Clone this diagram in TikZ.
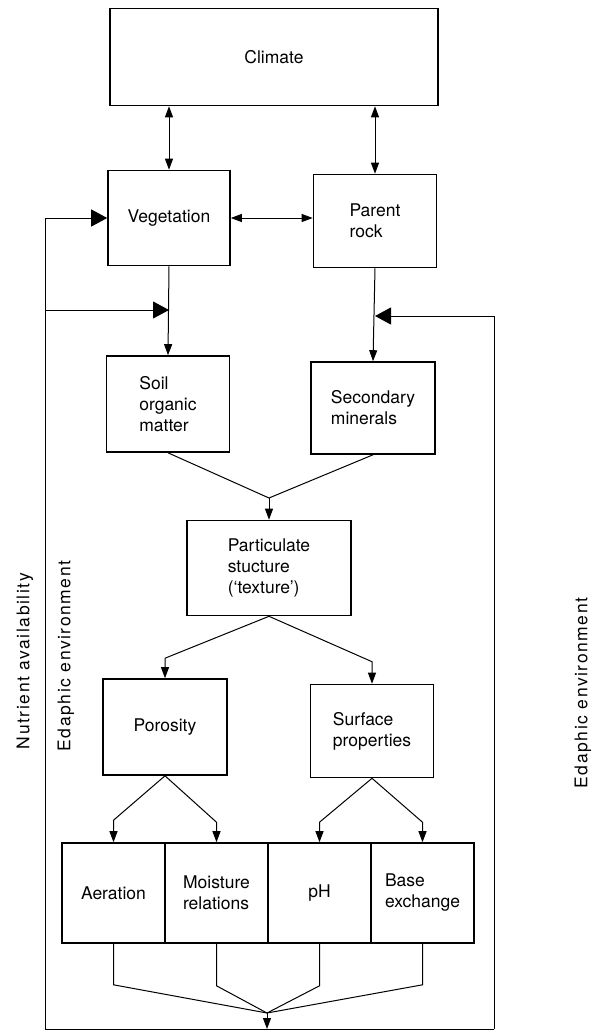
\documentclass[tikz,border=0pt]{standalone}
\usepackage{fontspec}
\setmainfont{TeX Gyre Heros}
\usetikzlibrary{arrows.meta,calc}

\begin{document}
\begin{tikzpicture}[x=1pt,y=-1pt]

                \tikzstyle{box}   = [draw, line width=1.6pt, align=left, inner sep=0pt, font=\fontsize{17.5}{21}\selectfont]
                \tikzstyle{arr}   = [line width=1pt, -{Triangle[length=11pt,width=8pt]}]
                \tikzstyle{darr}  = [line width=1pt, {Triangle[length=11pt,width=8pt]}-{Triangle[length=11pt,width=8pt]}]
                \tikzstyle{fbarr} = [line width=1pt, -{Triangle[length=16pt,width=17pt]}]
                \tikzstyle{side}  = [rotate=90, font=\fontsize{17.5}{21}\selectfont\addfontfeature{LetterSpace=9}]

                \useasboundingbox (0,0) rectangle (598,1034);

                \node [box, minimum width=328pt, minimum height=97pt](climate) at (274, 57) {Climate};
                \node [box, minimum width=122pt, minimum height=95pt](veg) at (169, 218) {Vegetation};
                \node [box, minimum width=123pt, minimum height=93pt](rock) at (375, 221) {Parent\\rock};
                \node [box, minimum width=123pt, minimum height=96pt](soil) at (168, 404) {Soil\\organic\\matter};
                \node [box, minimum width=124pt, minimum height=92pt](second) at (373, 408) {Secondary\\minerals};
                \node [box, minimum width=164pt, minimum height=95pt](partic) at (269, 568) {Particulate\\stucture\\(`texture')};
                \node [box, minimum width=124pt, minimum height=96pt](poros) at (165, 727) {Porosity};
                \node [box, minimum width=123pt, minimum height=93pt](surf) at (372, 731) {Surface\\properties};
                \node [box, minimum width=103pt, minimum height=100pt](aer) at (113.5, 893) {Aeration};
                \node [box, minimum width=103pt, minimum height=100pt](moist) at (216.5, 893) {Moisture\\relations};
                \node [box, minimum width=103pt, minimum height=100pt](ph) at (319.5, 893) {pH};
                \node [box, minimum width=103pt, minimum height=100pt](base) at (422.5, 893) {Base\\exchange};

                \node [side](nutr) at (25, 661) {Nutrient availability};
                \node [side](edl) at (66, 656) {Edaphic environment};
                \node [side](edr) at (583, 693) {Edaphic environment};

                \coordinate (pj) at (269, 498);
                \coordinate (mj) at (267, 1013);
                \coordinate (bl) at (45, 1029);
                \coordinate (br) at (494, 1029);
                \coordinate (nl) at (45, 310);
                \coordinate (nr) at (494, 316);

                \draw [darr] (veg.north) -- (veg.north |- climate.south);
                \draw [darr] (rock.north) -- (rock.north |- climate.south);
                \draw [darr] (veg.east) -- (veg.east -| rock.west);
                \draw [arr] (veg.south) -- (soil.north);
                \draw [arr] (rock.south) -- (second.north);

                \draw [line width=1pt] (soil.south) -- (pj) -- (second.south);
                \draw [arr] (pj) -- (partic.north);
                \draw [arr] (partic.south) -- ($(poros.north)+(0,-20)$) -- (poros.north);
                \draw [arr] (partic.south) -- ($(surf.north)+(0,-22)$) -- (surf.north);
                \draw [arr] (poros.south) -- ($(aer.north)+(0,-22)$) -- (aer.north);
                \draw [arr] (poros.south) -- ($(moist.north)+(0,-20)$) -- (moist.north);
                \draw [arr] (surf.south) -- ($(ph.north)+(0,-20)$) -- (ph.north);
                \draw [arr] (surf.south) -- ($(base.north)+(0,-20)$) -- (base.north);

                \draw [line width=1pt] (aer.south) -- ++(0, 41) -- (mj);
                \draw [line width=1pt] (moist.south) -- ++(0, 42) -- (mj);
                \draw [line width=1pt] (ph.south) -- ++(0, 42) -- (mj);
                \draw [line width=1pt] (base.south) -- ++(0, 41) -- (mj);
                \draw [arr] (mj) -- (mj |- bl);

                \draw [line width=1pt] (bl) -- (br);
                \draw [fbarr] (bl) |- (veg.west);
                \draw [fbarr] (nl) -- (nl -| veg.south);
                \draw [line width=1pt] (br) -- (nr);
                \draw [fbarr] (nr) -- (nr -| rock.south);
\end{tikzpicture}
\end{document}
